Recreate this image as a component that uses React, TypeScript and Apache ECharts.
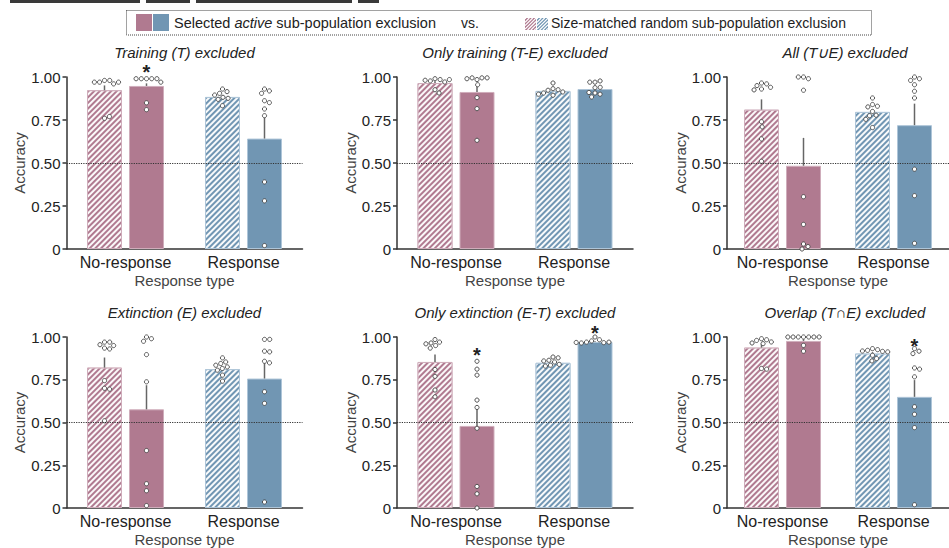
import React, { useEffect, useRef } from 'react';
import * as echarts from 'echarts';

// ---------------- data ----------------
const categories = ['No-response', 'Response'];
const panelTitles = [
  'Training (T) excluded',
  'Only training (T-E) excluded',
  'All (T\u222AE) excluded',
  'Extinction (E) excluded',
  'Only extinction (E-T) excluded',
  'Overlap (T\u2229E) excluded',
];
const yTickValues = [0, 0.25, 0.5, 0.75, 1];
const yTickLabels = ['0', '0.25', '0.50', '0.75', '1.00'];
const chanceLevel = 0.5;

// per panel: [No-response, Response]
const randomMeans = [
  [0.923, 0.884],
  [0.965, 0.919],
  [0.81, 0.797],
  [0.821, 0.812],
  [0.854, 0.849],
  [0.938, 0.903],
];
const randomSem = [
  [0.028, 0.01],
  [0.01, 0.008],
  [0.06, 0.015],
  [0.059, 0.013],
  [0.043, 0.006],
  [0.022, 0.008],
];
const selectedMeans = [
  [0.948, 0.642],
  [0.913, 0.93],
  [0.484, 0.72],
  [0.577, 0.757],
  [0.48, 0.971],
  [0.977, 0.65],
];
const selectedSem = [
  [0.015, 0.136],
  [0.048, 0.01],
  [0.162, 0.125],
  [0.141, 0.097],
  [0.112, 0.004],
  [0.01, 0.098],
];

const randomDots = [
  [[0.98, 0.98, 0.97, 0.96, 0.97, 0.97, 0.76, 0.77], [0.93, 0.915, 0.905, 0.895, 0.882, 0.876, 0.87, 0.833]],
  [[0.99, 0.985, 0.977, 0.971, 0.981, 0.985, 0.926, 0.907], [0.965, 0.932, 0.926, 0.923, 0.913, 0.907, 0.894, 0.9]],
  [[0.965, 0.96, 0.95, 0.94, 0.93, 0.925, 0.74, 0.71, 0.64, 0.51], [0.878, 0.84, 0.83, 0.826, 0.8, 0.778, 0.775, 0.754, 0.706]],
  [[0.97, 0.97, 0.955, 0.95, 0.935, 0.93, 0.745, 0.7, 0.695, 0.51], [0.878, 0.854, 0.845, 0.835, 0.825, 0.816, 0.806, 0.777, 0.742]],
  [[0.985, 0.97, 0.965, 0.96, 0.95, 0.935, 0.81, 0.77, 0.69, 0.65], [0.883, 0.878, 0.864, 0.86, 0.854, 0.84, 0.835, 0.83]],
  [[0.99, 0.984, 0.98, 0.971, 0.965, 0.961, 0.816, 0.812], [0.932, 0.926, 0.922, 0.918, 0.916, 0.913, 0.893, 0.874, 0.86]],
];
const selectedDots = [
  [[0.99, 0.99, 0.99, 0.99, 0.99, 0.97, 0.85, 0.81], [0.93, 0.919, 0.905, 0.862, 0.851, 0.814, 0.775, 0.39, 0.28, 0.02]],
  [[0.985, 0.995, 0.995, 0.995, 0.99, 0.955, 0.88, 0.816, 0.632], [0.97, 0.977, 0.97, 0.938, 0.94, 0.907, 0.9, 0.884, 0.91]],
  [[1.0, 0.99, 1.0, 0.923, 0.304, 0.143, 0.029, 0.014, 0.0], [1.0, 0.99, 0.98, 0.955, 0.917, 0.878, 0.464, 0.31, 0.033]],
  [[1.0, 0.99, 0.975, 0.897, 0.738, 0.336, 0.142, 0.101, 0.014], [0.986, 0.986, 0.917, 0.913, 0.858, 0.849, 0.68, 0.612, 0.035]],
  [[0.858, 0.812, 0.777, 0.631, 0.588, 0.466, 0.126, 0.083, 0.0], [1.0, 0.984, 0.977, 0.97, 0.967, 0.965, 0.97, 0.968]],
  [[1, 1, 1, 1, 1, 1, 1, 0.951, 0.917], [0.932, 0.917, 0.903, 0.819, 0.812, 0.767, 0.592, 0.548, 0.47, 0.019]],
];

// significance markers: panel, category, group (0 random, 1 selected), y
const sigPanel = [0, 4, 4, 5];
const sigCategory = [0, 0, 1, 1];
const sigGroup = [1, 1, 1, 1];
const sigY = [1.058, 0.924, 1.054, 0.977];

// ---------------- style / layout ----------------
const FONT = "'Liberation Sans', Arial, Helvetica, sans-serif";
const catColors = ['#b07a90', '#7196b3'];
const catBorders = ['#cfadbb', '#aec5d8'];
const gridLefts = [66.5, 397, 727];
const gridTops = [77, 337];
const gridHeights = [172, 171];
const gridWidth = 236;
const BAR_W = 35;
const HALF_OFF = 21;
const DOT_D = 5.2;

const hatchDecal = {
  symbol: 'rect',
  symbolSize: 1,
  color: 'rgba(255,255,255,0.95)',
  dashArrayX: [1, 0],
  dashArrayY: [1.7, 1.7],
  rotation: -Math.PI / 4,
};

function swarm(vals: number[], pxPerUnit: number): number[] {
  const placed: { x: number; y: number }[] = [];
  const out: number[] = [];
  vals.forEach((v) => {
    const y = v * pxPerUnit;
    const cands = [0];
    placed.forEach((p) => {
      const dy = Math.abs(p.y - y);
      if (dy < DOT_D) {
        const dx = Math.sqrt(DOT_D * DOT_D - dy * dy) + 0.01;
        cands.push(p.x + dx, p.x - dx);
      }
    });
    cands.sort((a, b) => Math.abs(a) - Math.abs(b));
    let chosen = 0;
    for (const c of cands) {
      const ok = placed.every((p) => (p.x - c) ** 2 + (p.y - y) ** 2 >= DOT_D * DOT_D - 0.01);
      if (ok) { chosen = c; break; }
    }
    placed.push({ x: chosen, y });
    out.push(chosen);
  });
  return out;
}

function hatchSquare(x0: number, y0: number, w: number, h: number, color: string, period: number) {
  const children: any[] = [
    { type: 'rect', shape: { x: x0, y: y0, width: w, height: h }, style: { fill: color } },
  ];
  for (let k = -w + period / 2; k < h; k += period) {
    const u1 = Math.max(0, -k);
    const u2 = Math.min(w, h - k);
    if (u2 <= u1) continue;
    children.push({
      type: 'line',
      shape: { x1: x0 + u1, y1: y0 + h - (u1 + k), x2: x0 + u2, y2: y0 + h - (u2 + k) },
      style: { stroke: '#fff', lineWidth: 1.2 },
    });
  }
  return { type: 'group', children };
}

function buildOption() {
  const grids: any[] = [];
  const xAxes: any[] = [];
  const yAxes: any[] = [];
  const titles: any[] = [];
  const series: any[] = [];

  for (let p = 0; p < 6; p++) {
    const row = Math.floor(p / 3);
    const col = p % 3;
    const h = gridHeights[row];
    grids.push({ left: gridLefts[col], top: gridTops[row], width: gridWidth, height: h });
    titles.push({
      text: panelTitles[p],
      left: gridLefts[col] + gridWidth / 2,
      top: gridTops[row] - 32,
      textAlign: 'center',
      padding: 0,
      textStyle: { fontSize: 15, fontStyle: 'italic', fontWeight: 'normal', color: '#222', fontFamily: FONT },
    });
    xAxes.push({
      type: 'category',
      gridIndex: p,
      data: categories,
      axisLine: { lineStyle: { color: '#333', width: 1.5 } },
      axisTick: { alignWithLabel: true, length: 4, lineStyle: { color: '#333', width: 1.5 } },
      axisLabel: { interval: 0, fontSize: 16, color: '#222', margin: 5, fontFamily: FONT },
      name: 'Response type',
      nameLocation: 'middle',
      nameGap: 24,
      nameTextStyle: { fontSize: 15, color: '#444', fontFamily: FONT },
    });
    yAxes.push({
      type: 'value',
      gridIndex: p,
      min: 0,
      max: 1,
      interval: 0.25,
      axisLine: { show: true, lineStyle: { color: '#333', width: 1.5 } },
      axisTick: { show: true, length: 4, lineStyle: { color: '#333', width: 1.5 } },
      splitLine: { show: false },
      axisLabel: {
        fontSize: 15,
        color: '#222',
        margin: 6,
        fontFamily: FONT,
        formatter: (v: number) => {
          const i = yTickValues.findIndex((t) => Math.abs(t - v) < 1e-6);
          return i >= 0 ? yTickLabels[i] : '';
        },
      },
      name: 'Accuracy',
      nameLocation: 'middle',
      nameGap: 38,
      nameTextStyle: { fontSize: 15, color: '#444', fontFamily: FONT },
    });

    series.push({
      type: 'bar',
      xAxisIndex: p,
      yAxisIndex: p,
      barWidth: BAR_W,
      barGap: '20%',
      z: 2,
      data: randomMeans[p].map((v, c) => ({
        value: v,
        itemStyle: { color: catColors[c], borderColor: catBorders[c], borderWidth: 1, decal: hatchDecal },
      })),
      markLine: {
        silent: true,
        symbol: 'none',
        label: { show: false },
        lineStyle: { type: 'dotted', color: '#333', width: 1.2 },
        data: [{ yAxis: chanceLevel }],
      },
    });
    series.push({
      type: 'bar',
      xAxisIndex: p,
      yAxisIndex: p,
      barWidth: BAR_W,
      barGap: '20%',
      z: 2,
      data: selectedMeans[p].map((v, c) => ({
        value: v,
        itemStyle: { color: catColors[c], borderColor: catBorders[c], borderWidth: 1 },
      })),
    });

    // error bars
    const errData: number[][] = [];
    [0, 1].forEach((c) => {
      errData.push([c, 0, randomMeans[p][c], randomSem[p][c]]);
      errData.push([c, 1, selectedMeans[p][c], selectedSem[p][c]]);
    });
    series.push({
      type: 'custom',
      xAxisIndex: p,
      yAxisIndex: p,
      z: 3,
      clip: false,
      encode: { x: 0, y: 2 },
      data: errData,
      renderItem: (params: any, api: any) => {
        const c = api.value(0);
        const g = api.value(1);
        const m = api.value(2);
        const s = api.value(3);
        const p0 = api.coord([c, m]);
        const p1 = api.coord([c, m + s]);
        const x = p0[0] + (g ? HALF_OFF : -HALF_OFF);
        return {
          type: 'line',
          shape: { x1: x, y1: p0[1], x2: x, y2: p1[1] },
          style: { stroke: '#666', lineWidth: 1.5 },
        };
      },
    });

    // dots
    const dotData: number[][] = [];
    [0, 1].forEach((c) => {
      const rv = randomDots[p][c];
      const rj = swarm(rv, h);
      rv.forEach((v, i) => dotData.push([c, 0, v, rj[i]]));
      const sv = selectedDots[p][c];
      const sj = swarm(sv, h);
      sv.forEach((v, i) => dotData.push([c, 1, v, sj[i]]));
    });
    series.push({
      type: 'custom',
      xAxisIndex: p,
      yAxisIndex: p,
      z: 4,
      clip: false,
      encode: { x: 0, y: 2 },
      data: dotData,
      renderItem: (params: any, api: any) => {
        const c = api.value(0);
        const g = api.value(1);
        const v = api.value(2);
        const j = api.value(3);
        const pt = api.coord([c, v]);
        return {
          type: 'circle',
          shape: { cx: pt[0] + (g ? HALF_OFF : -HALF_OFF) + j, cy: pt[1], r: 2.1 },
          style: { fill: '#fff', stroke: '#444', lineWidth: 0.9 },
        };
      },
    });

    // significance
    const sigData: number[][] = [];
    sigPanel.forEach((sp, i) => {
      if (sp === p) sigData.push([sigCategory[i], sigGroup[i], sigY[i]]);
    });
    if (sigData.length) {
      series.push({
        type: 'custom',
        xAxisIndex: p,
        yAxisIndex: p,
        z: 5,
        clip: false,
        encode: { x: 0, y: 2 },
        data: sigData,
        renderItem: (params: any, api: any) => {
          const c = api.value(0);
          const g = api.value(1);
          const y = api.value(2);
          const pt = api.coord([c, y]);
          return {
            type: 'text',
            style: {
              text: '*',
              x: pt[0] + (g ? HALF_OFF : -HALF_OFF),
              y: pt[1] + 5,
              align: 'center',
              verticalAlign: 'middle',
              font: `bold 20px ${FONT}`,
              fill: '#222',
            },
          };
        },
      });
    }
  }

  const graphics: any[] = [
    { type: 'rect', shape: { x: 10, y: 0, width: 130, height: 3 }, style: { fill: '#3a3a3a' } },
    { type: 'rect', shape: { x: 146, y: 0, width: 44, height: 3 }, style: { fill: '#3a3a3a' } },
    { type: 'rect', shape: { x: 196, y: 0, width: 156, height: 3 }, style: { fill: '#3a3a3a' } },
    { type: 'rect', shape: { x: 358, y: 0, width: 21, height: 3 }, style: { fill: '#3a3a3a' } },
    {
      type: 'rect',
      shape: { x: 126.5, y: 10.5, width: 745, height: 24.5 },
      style: { fill: 'none', stroke: '#444', lineWidth: 1, lineDash: [1, 1] },
    },
    { type: 'rect', shape: { x: 136, y: 14, width: 16, height: 17 }, style: { fill: catColors[0] } },
    { type: 'rect', shape: { x: 153, y: 14, width: 16, height: 17 }, style: { fill: catColors[1] } },
    {
      type: 'text',
      x: 174,
      y: 23,
      style: {
        text: '{n|Selected }{i|active}{n| sub-population exclusion}',
        verticalAlign: 'middle',
        rich: {
          n: { fontSize: 14.5, fontFamily: FONT, fill: '#222' },
          i: { fontSize: 14.5, fontFamily: FONT, fontStyle: 'italic', fill: '#222' },
        },
      },
    },
    {
      type: 'text',
      x: 461,
      y: 23,
      style: { text: 'vs.', verticalAlign: 'middle', fontSize: 14, fontFamily: FONT, fill: '#222' },
    },
    hatchSquare(525, 18, 11, 12, catColors[0], 3.4),
    hatchSquare(537, 18, 11, 12, catColors[1], 3.4),
    {
      type: 'text',
      x: 551,
      y: 23,
      style: {
        text: 'Size-matched random sub-population exclusion',
        verticalAlign: 'middle',
        fontSize: 14,
        fontFamily: FONT,
        fill: '#222',
      },
    },
  ];

  return {
    animation: false,
    backgroundColor: '#ffffff',
    textStyle: { fontFamily: FONT },
    title: titles,
    grid: grids,
    xAxis: xAxes,
    yAxis: yAxes,
    series,
    graphic: graphics,
  };
}

export default function App() {
  const ref = useRef<HTMLDivElement>(null);
  useEffect(() => {
    if (!ref.current) return;
    const chart = echarts.init(ref.current, undefined, { renderer: 'svg' });
    chart.setOption(buildOption() as any);
    return () => chart.dispose();
  }, []);
  return (
    <div
      ref={ref}
      style={{ position: 'absolute', left: 0, top: 0, width: 949, height: 548, background: '#fff' }}
    />
  );
}
